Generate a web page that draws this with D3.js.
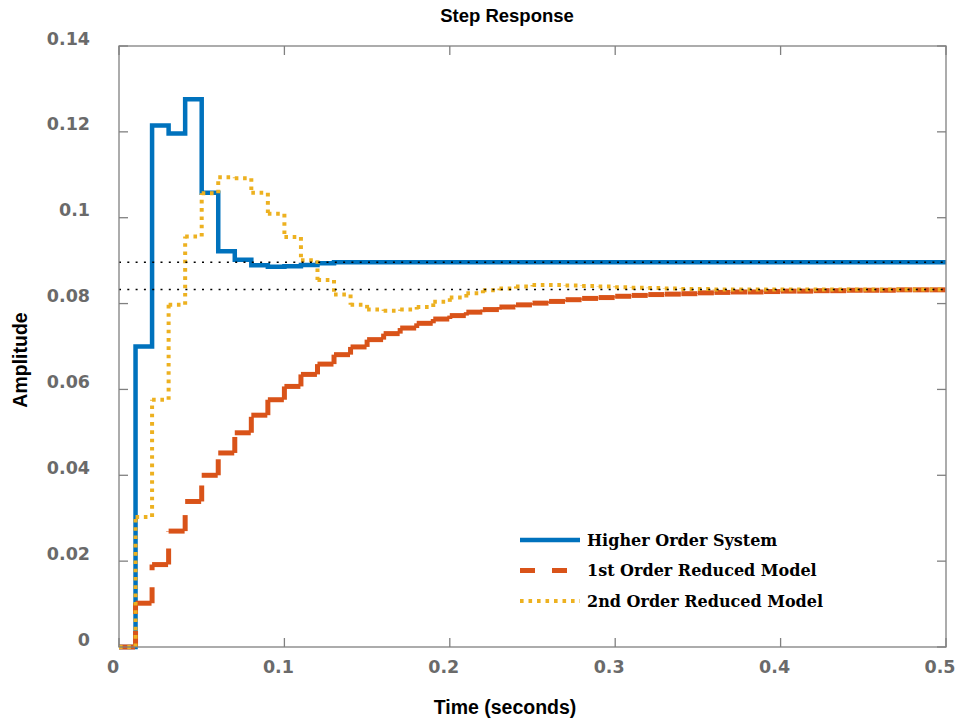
<!DOCTYPE html>
<html>
<head>
<meta charset="utf-8">
<script src="https://cdn.jsdelivr.net/npm/d3@7"></script>
<style>
  html, body { margin: 0; padding: 0; background: #fff; }
  svg { display: block; }
</style>
</head>
<body>
<svg id="chart" width="959" height="721"></svg>
<script>
// Sample instants (s)
const time = [0.00,0.01,0.02,0.03,0.04,0.05,0.06,0.07,0.08,0.09,
  0.10,0.11,0.12,0.13,0.14,0.15,0.16,0.17,0.18,0.19,
  0.20,0.21,0.22,0.23,0.24,0.25,0.26,0.27,0.28,0.29,
  0.30,0.31,0.32,0.33,0.34,0.35,0.36,0.37,0.38,0.39,
  0.40,0.41,0.42,0.43,0.44,0.45,0.46,0.47,0.48,0.49,0.50];

// Step response of the full model
const higherOrder = [0,0.0700,0.1215,0.1196,0.1276,0.1058,0.0922,0.0902,0.0889,0.0886,
  0.0887,0.0890,0.0894,0.0896,0.0896,0.0896,0.0896,0.0896,0.0896,0.0896,
  0.0896,0.0896,0.0896,0.0896,0.0896,0.0896,0.0896,0.0896,0.0896,0.0896,
  0.0896,0.0896,0.0896,0.0896,0.0896,0.0896,0.0896,0.0896,0.0896,0.0896,
  0.0896,0.0896,0.0896,0.0896,0.0896,0.0896,0.0896,0.0896,0.0896,0.0896,0.0896];

// First order reduced model
const firstOrder = [0,0.0102,0.0192,0.0270,0.0339,0.0400,0.0452,0.0499,0.0540,0.0576,
  0.0607,0.0635,0.0659,0.0681,0.0699,0.0716,0.0730,0.0743,0.0754,0.0764,
  0.0772,0.0780,0.0786,0.0792,0.0797,0.0801,0.0805,0.0809,0.0812,0.0814,
  0.0817,0.0819,0.0821,0.0822,0.0823,0.0825,0.0826,0.0827,0.0827,0.0828,
  0.0829,0.0829,0.0830,0.0830,0.0831,0.0831,0.0831,0.0832,0.0832,0.0832,0.0832];

// Second order reduced model
const secondOrder = [0,0.0303,0.0576,0.0797,0.0956,0.1057,0.1094,0.1092,0.1058,0.1009,
  0.0955,0.0901,0.0855,0.0821,0.0797,0.0786,0.0783,0.0786,0.0792,0.0804,
  0.0814,0.0824,0.0831,0.0835,0.0840,0.0843,0.0843,0.0842,0.0841,0.0840,
  0.0838,0.0837,0.0836,0.0835,0.0834,0.0834,0.0833,0.0833,0.0833,0.0833,
  0.0833,0.0833,0.0833,0.0833,0.0833,0.0833,0.0833,0.0833,0.0833,0.0833,0.0833];

// Steady-state levels
const steadyStates = [0.0896, 0.0833];

const xTicks = [0, 0.1, 0.2, 0.3, 0.4, 0.5];
const xTickLabels = ["0", "0.1", "0.2", "0.3", "0.4", "0.5"];
const yTicks = [0, 0.02, 0.04, 0.06, 0.08, 0.10, 0.12, 0.14];
const yTickLabels = ["0", "0.02", "0.04", "0.06", "0.08", "0.1", "0.12", "0.14"];

const seriesNames = ["Higher Order System", "1st Order Reduced Model", "2nd Order Reduced Model"];
const seriesColors = ["#0072BD", "#D95319", "#EDB120"];

const svg = d3.select("#chart");
const plotLeft = 119, plotRight = 946, plotTop = 46, plotBottom = 647;

const x = d3.scaleLinear().domain([0, 0.5]).range([plotLeft, plotRight]);
const y = d3.scaleLinear().domain([0, 0.14]).range([plotBottom, plotTop]);

const frameColor = "#808080";
const tickColor = "#6a6a6a";

// Tick marks on all four sides, pointing inward
const tickLen = 9;
const g = svg.append("g");
xTicks.forEach(t => {
  g.append("line").attr("x1", x(t)).attr("x2", x(t)).attr("y1", plotBottom).attr("y2", plotBottom - tickLen)
    .attr("stroke", frameColor).attr("stroke-width", 1.3);
  g.append("line").attr("x1", x(t)).attr("x2", x(t)).attr("y1", plotTop).attr("y2", plotTop + tickLen)
    .attr("stroke", frameColor).attr("stroke-width", 1.3);
});
yTicks.forEach(v => {
  g.append("line").attr("x1", plotLeft).attr("x2", plotLeft + tickLen).attr("y1", y(v)).attr("y2", y(v))
    .attr("stroke", frameColor).attr("stroke-width", 1.3);
  g.append("line").attr("x1", plotRight).attr("x2", plotRight - tickLen).attr("y1", y(v)).attr("y2", y(v))
    .attr("stroke", frameColor).attr("stroke-width", 1.3);
});

// Tick labels
const tickFont = "'DejaVu Sans', Verdana, sans-serif";
svg.append("g").selectAll("text").data(xTicks).join("text")
  .attr("x", d => x(d) - 6).attr("y", plotBottom + 26)
  .attr("text-anchor", "middle")
  .attr("font-family", tickFont).attr("font-weight", "bold").attr("font-size", 17.5)
  .attr("fill", tickColor)
  .text((d, i) => xTickLabels[i]);

svg.append("g").selectAll("text").data(yTicks).join("text")
  .attr("x", 90).attr("y", d => y(d) - 1.5)
  .attr("text-anchor", "end")
  .attr("font-family", tickFont).attr("font-weight", "bold").attr("font-size", 17.5)
  .attr("fill", tickColor)
  .text((d, i) => yTickLabels[i]);

// Split a sampled signal into stair segments
function stairSegments(values) {
  const segs = [];
  for (let i = 0; i < time.length - 1; i++) {
    segs.push([time[i], values[i], time[i + 1], values[i]]);
    if (values[i + 1] !== values[i]) segs.push([time[i + 1], values[i], time[i + 1], values[i + 1]]);
  }
  return segs;
}

// Higher order system (solid)
svg.append("path")
  .datum(time.map((t, i) => [t, higherOrder[i]]))
  .attr("fill", "none")
  .attr("stroke", seriesColors[0])
  .attr("stroke-width", 4.5)
  .attr("stroke-linejoin", "miter")
  .attr("d", d3.line().x(d => x(d[0])).y(d => y(d[1])).curve(d3.curveStepAfter));

// First order reduced model (dashed, pattern restarts per segment)
svg.append("g").selectAll("line").data(stairSegments(firstOrder)).join("line")
  .attr("x1", d => x(d[0])).attr("y1", d => y(d[1]))
  .attr("x2", d => x(d[2])).attr("y2", d => y(d[3]))
  .attr("stroke", seriesColors[1]).attr("stroke-width", 5)
  .attr("stroke-dasharray", "16,17");

// Second order reduced model (dotted, pattern restarts per segment)
svg.append("g").selectAll("line").data(stairSegments(secondOrder)).join("line")
  .attr("x1", d => x(d[0])).attr("y1", d => y(d[1]))
  .attr("x2", d => x(d[2])).attr("y2", d => y(d[3]))
  .attr("stroke", seriesColors[2]).attr("stroke-width", 4)
  .attr("stroke-dasharray", "3.6,4.7");

// Steady-state reference lines
svg.append("g").selectAll("line").data(steadyStates).join("line")
  .attr("x1", plotLeft).attr("x2", plotRight)
  .attr("y1", d => y(d)).attr("y2", d => y(d))
  .attr("stroke", "#000").attr("stroke-width", 1.5)
  .attr("stroke-dasharray", "2,6.3");

// Axes box
svg.append("rect")
  .attr("x", plotLeft).attr("y", plotTop).attr("width", plotRight - plotLeft).attr("height", plotBottom - plotTop)
  .attr("fill", "none").attr("stroke", frameColor).attr("stroke-width", 1.3);

// Title and axis labels
const labelFont = "'Liberation Sans', Arial, Helvetica, sans-serif";
svg.append("text").attr("x", 507).attr("y", 22).attr("text-anchor", "middle")
  .attr("font-family", labelFont).attr("font-weight", "bold").attr("font-size", 18.5)
  .attr("fill", "#000").text("Step Response");
svg.append("text").attr("x", 505).attr("y", 714).attr("text-anchor", "middle")
  .attr("font-family", labelFont).attr("font-weight", "bold").attr("font-size", 19.5)
  .attr("fill", "#000").text("Time (seconds)");
svg.append("text").attr("transform", "translate(27,360) rotate(-90)").attr("text-anchor", "middle")
  .attr("font-family", labelFont).attr("font-weight", "bold").attr("font-size", 19.5)
  .attr("fill", "#000").text("Amplitude");

// Legend
const legendRows = [540, 570.5, 601];
const legendDash = ["none", "15,17", "3.6,4.9"];
const legendWidth = [4.5, 5, 4];
const lg = svg.append("g");
seriesNames.forEach((name, i) => {
  lg.append("line").attr("x1", 520).attr("x2", i === 1 ? 568 : 580)
    .attr("y1", legendRows[i]).attr("y2", legendRows[i])
    .attr("stroke", seriesColors[i]).attr("stroke-width", legendWidth[i])
    .attr("stroke-dasharray", legendDash[i]);
  lg.append("text").attr("x", 587).attr("y", legendRows[i] + 5.5)
    .attr("font-family", "'DejaVu Serif', 'Liberation Serif', serif")
    .attr("font-weight", "bold").attr("font-size", 16)
    .attr("fill", "#000").text(name);
});
</script>
</body>
</html>
